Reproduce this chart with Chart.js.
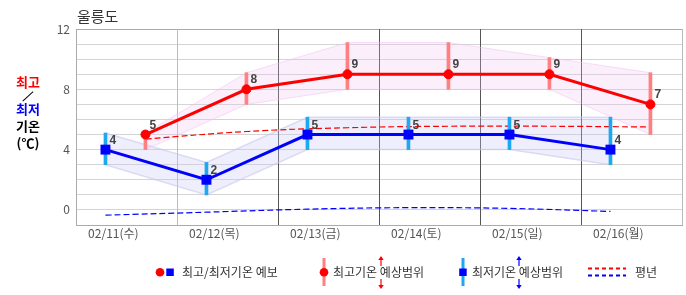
<!DOCTYPE html>
<html><head><meta charset="utf-8">
<script src="https://cdn.jsdelivr.net/npm/chart.js@4/dist/chart.umd.min.js"></script>
<style>
html,body{margin:0;padding:0;background:#fff;}
#wrap{position:relative;width:686px;height:295px;overflow:hidden;font-family:'Noto Sans CJK KR',sans-serif;}
#c{position:absolute;left:0;top:0;}
.t{position:absolute;white-space:nowrap;line-height:1;}
.yl{position:absolute;left:14px;width:28px;text-align:center;font-size:13px;font-weight:bold;line-height:1;}
.lg{position:absolute;top:266px;font-size:12px;color:#333;line-height:1;white-space:nowrap;}
</style></head><body>
<div id="wrap">
<canvas id="c" width="686" height="295"></canvas>
<div class="t" style="left:77px;top:8px;font-size:15px;color:#333;">울릉도</div>
<div class="yl" style="top:74.5px;color:#ff0000;">최고</div>
<div style="position:absolute;left:20.5px;top:95.5px;width:13.5px;height:1px;background:#000;transform:rotate(-42deg);"></div>
<div class="yl" style="top:101.5px;color:#0000ff;">최저</div>
<div class="yl" style="top:118.5px;color:#000;">기온</div>
<div class="yl" style="top:136px;color:#000;">(℃)</div>
<svg style="position:absolute;left:0;top:250px;" width="686" height="45" xmlns="http://www.w3.org/2000/svg">
  <circle cx="160" cy="22.3" r="4.3" fill="#ff0000"/>
  <rect x="166.3" y="18.5" width="7.5" height="7.5" fill="#0000ff"/>
  <rect x="322.5" y="8" width="3" height="28" fill="#ff8080"/>
  <circle cx="324" cy="22.3" r="4.3" fill="#ff0000"/>
  <line x1="381" y1="9" x2="381" y2="16" stroke="#ff0000" stroke-width="1.2"/>
  <polygon points="381,6 378.3,10 383.7,10" fill="#ff0000"/>
  <line x1="381" y1="29" x2="381" y2="36" stroke="#ff0000" stroke-width="1.2"/>
  <polygon points="381,39 378.3,35 383.7,35" fill="#ff0000"/>
  <rect x="461.5" y="8" width="3" height="28" fill="#1ea8f0"/>
  <rect x="459.2" y="18.5" width="7.5" height="7.5" fill="#0000ff"/>
  <line x1="519" y1="9" x2="519" y2="16" stroke="#0000ff" stroke-width="1.2"/>
  <polygon points="519,6 516.3,10 521.7,10" fill="#0000ff"/>
  <line x1="519" y1="29" x2="519" y2="36" stroke="#0000ff" stroke-width="1.2"/>
  <polygon points="519,39 516.3,35 521.7,35" fill="#0000ff"/>
  <line x1="588" y1="18.5" x2="626" y2="18.5" stroke="#ff0000" stroke-width="2" stroke-dasharray="4,3"/>
  <line x1="588" y1="25.5" x2="626" y2="25.5" stroke="#0000ff" stroke-width="2" stroke-dasharray="4,3"/>
</svg>
<div class="lg" style="left:182px;">최고/최저기온 예보</div>
<div class="lg" style="left:333px;">최고기온 예상범위</div>
<div class="lg" style="left:472px;">최저기온 예상범위</div>
<div class="lg" style="left:635px;">평년</div>
</div>
<script>
// ---- data ----
const days = ['02/11(수)', '02/12(목)', '02/13(금)', '02/14(토)', '02/15(일)', '02/16(월)'];
const maxTemp = [5, 8, 9, 9, 9, 7];
const minTemp = [4, 2, 5, 5, 5, 4];
const maxRangeLow = [4, 7, 8, 8, 8, 5];
const maxRangeHigh = [5.1, 9.1, 11.1, 11.1, 10.1, 9.1];
const minRangeLow = [3, 1, 4, 4, 4, 3];
const minRangeHigh = [5.1, 3.15, 6.15, 6.15, 6.15, 6.15];
const maxNormal = [4.7, 5.2, 5.45, 5.55, 5.55, 5.5];
const minNormal = [-0.35, -0.15, 0.05, 0.15, 0.1, -0.1];
const yTickLabels = [0, 4, 8, 12];
const MIN_HOUR = 7;      // time of day of the minimum temperature
const MAX_HOUR = 16.5;   // time of day of the maximum temperature
const LABEL_POS = 0.37;  // where the day label sits inside its day

const atHour = (arr, h) => arr.map((v, i) => ({ x: i + h / 24, y: v }));
const rangeAt = (lo, hi, h) => lo.map((v, i) => ({ x: i + h / 24, y: [v, hi[i]] }));

const valueLabels = {
  id: 'valueLabels',
  afterDatasetsDraw(chart) {
    const ctx = chart.ctx;
    ctx.save();
    ctx.font = 'bold 12px "Liberation Sans", Arial, sans-serif';
    ctx.fillStyle = '#444';
    ctx.textAlign = 'left';
    ctx.textBaseline = 'alphabetic';
    [0, 1].forEach(di => {
      const meta = chart.getDatasetMeta(di);
      const ds = chart.data.datasets[di].data;
      meta.data.forEach((pt, i) => ctx.fillText(String(ds[i].y), pt.x + 4, pt.y - 6));
    });
    ctx.restore();
  }
};

const vGridColor = v => {
  if (v === 0) return '#aaaaaa';
  if (v === 1) return '#bbbbbb';
  if (v === 6) return '#bbbbbb';
  return '#555555';
};

new Chart(document.getElementById('c'), {
  type: 'line',
  data: {
    datasets: [
      { label: 'max', data: atHour(maxTemp, MAX_HOUR), borderColor: '#ff0000', backgroundColor: '#ff0000',
        borderWidth: 3, pointRadius: 4.5, pointBorderWidth: 1, pointBackgroundColor: '#ff0000', pointBorderColor: '#ff0000', order: 0, fill: false },
      { label: 'min', data: atHour(minTemp, MIN_HOUR), borderColor: '#0000ff', backgroundColor: '#0000ff',
        borderWidth: 3, pointStyle: 'rect', pointRadius: 7, pointBorderWidth: 0, pointBackgroundColor: '#0000ff', order: 1, fill: false },
      { type: 'bar', label: 'maxRange', data: rangeAt(maxRangeLow, maxRangeHigh, MAX_HOUR), backgroundColor: '#ff8080',
        barThickness: 3, grouped: false, borderWidth: 0, order: 2 },
      { type: 'bar', label: 'minRange', data: rangeAt(minRangeLow, minRangeHigh, MIN_HOUR), backgroundColor: '#1ea8f0',
        barThickness: 3, grouped: false, borderWidth: 0, order: 3 },
      { label: 'maxNormal', data: atHour(maxNormal, MAX_HOUR), borderColor: '#ff0000', borderWidth: 1.2,
        borderDash: [6, 3], pointRadius: 0, tension: 0.4, order: 4, fill: false },
      { label: 'minNormal', data: atHour(minNormal, MIN_HOUR), borderColor: '#0000ff', borderWidth: 1.2,
        borderDash: [6, 3], pointRadius: 0, tension: 0.4, order: 5, fill: false },
      { label: 'maxHi', data: atHour(maxRangeHigh, MAX_HOUR), borderColor: 'rgba(240,190,240,0.5)', borderWidth: 1,
        pointRadius: 0, order: 6, fill: false },
      { label: 'maxLo', data: atHour(maxRangeLow, MAX_HOUR), borderColor: 'rgba(240,190,240,0.5)', borderWidth: 1,
        pointRadius: 0, order: 7, fill: '-1', backgroundColor: 'rgba(245,190,245,0.25)' },
      { label: 'minHi', data: atHour(minRangeHigh, MIN_HOUR), borderColor: 'rgba(200,200,235,0.6)', borderWidth: 1.5,
        pointRadius: 0, order: 8, fill: false },
      { label: 'minLo', data: atHour(minRangeLow, MIN_HOUR), borderColor: 'rgba(200,200,235,0.6)', borderWidth: 1.5,
        pointRadius: 0, order: 9, fill: '-1', backgroundColor: 'rgba(200,200,245,0.3)' }
    ]
  },
  options: {
    responsive: false,
    animation: false,
    events: [],
    layout: { autoPadding: false, padding: { left: 0, top: 29, right: 4, bottom: 0 } },
    plugins: { legend: { display: false }, tooltip: { enabled: false }, title: { display: false } },
    scales: {
      y: {
        min: -1, max: 12,
        afterFit: (scale) => { scale.width = 76; },
        grid: { drawTicks: false, color: (c) => (c.tick && c.tick.value === 12) ? '#aaaaaa' : '#d4d4d4' },
        border: { color: '#aaaaaa' },
        ticks: {
          stepSize: 1, autoSkip: false, padding: 6, color: '#555',
          font: { family: "'Noto Sans CJK KR', sans-serif", size: 12 },
          callback: (v) => yTickLabels.includes(v) ? String(v) : ''
        }
      },
      x: {
        type: 'linear', min: 0, max: days.length, offset: false,
        afterBuildTicks: (scale) => {
          const t = [];
          for (let i = 0; i <= days.length; i++) {
            t.push({ value: i });
            if (i < days.length) t.push({ value: i + LABEL_POS });
          }
          scale.ticks = t;
        },
        afterFit: (scale) => { scale.height = 70; },
        grid: {
          offset: false, drawTicks: false, lineWidth: 1,
          color: (c) => (c.tick && Number.isInteger(c.tick.value)) ? vGridColor(c.tick.value) : 'rgba(0,0,0,0)'
        },
        border: { color: '#aaaaaa' },
        ticks: {
          autoSkip: false, maxRotation: 0, padding: 1, color: '#555',
          font: { family: "'Noto Sans CJK KR', sans-serif", size: 12 },
          callback: (v) => Number.isInteger(v) ? '' : days[Math.floor(v)]
        }
      }
    }
  },
  plugins: [valueLabels]
});
</script>
</body></html>
